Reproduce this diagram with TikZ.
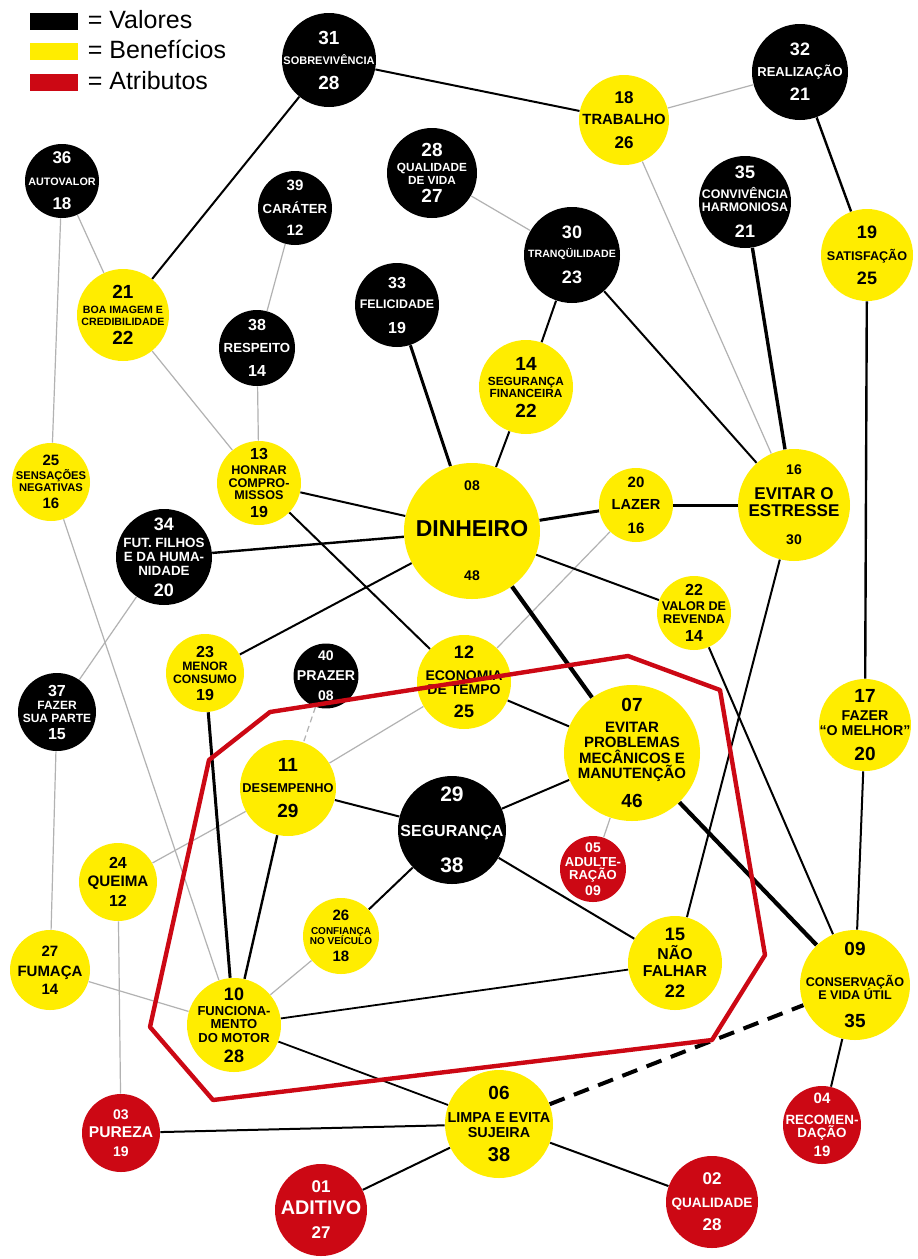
\documentclass[tikz,border=0pt]{standalone}
\usepackage{fontspec}
\setmainfont{Liberation Sans}
\usetikzlibrary{positioning}
\definecolor{amarelo}{RGB}{255,237,0}
\definecolor{vermelho}{RGB}{204,8,20}
\newcommand{\tam}[1]{\fontsize{#1}{0}\selectfont}
\newcommand{\fontebase}{\lineskiplimit=-\maxdimen\bfseries\fontsize{1}{0}\selectfont}

\tikzset{
  conceito/.style={circle, inner sep=-25pt, align=center, font=\fontebase},
  valor/.style={conceito, fill=black, text=white},
  beneficio/.style={conceito, fill=amarelo},
  atributo/.style={conceito, fill=vermelho, text=white},
  fraca/.style={draw=black!30, line width=0.6pt},
  media/.style={draw=black, line width=1pt},
  forte/.style={draw=black, line width=1.5pt},
  maisforte/.style={draw=black, line width=2.1pt},
  tracejada/.style={draw=black, line width=2pt, dash pattern=on 8pt off 5pt},
  contorno/.style={draw=vermelho, line width=2.2pt, line join=round},
  legenda/.style={minimum width=24pt, minimum height=8.5pt, inner sep=0pt},
  textoleg/.style={inner sep=0pt, text height=0.72em, text depth=0pt, font=\fontsize{12.5}{14}\selectfont}
}

\begin{document}
\begin{tikzpicture}[x=0.5pt, y=-0.5pt]
            \path[use as bounding box, fill=white] (0,0) rectangle (917,1259);

            %Legend
            \node[legenda, fill=black] at (54,21.5) (lv) {};
            \node[legenda, fill=amarelo] at (54,51) (lb) {};
            \node[legenda, fill=vermelho] at (54,82) (la) {};
            \node[textoleg, right=4.5pt of lv] (tv) {= Valores};
            \node[textoleg, right=4.5pt of lb] (tb) {= Benefícios};
            \node[textoleg, right=4.5pt of la] (ta) {= Atributos};

            %Nodes
            \node[valor, minimum size=47] at (329,60) (sobrev) {\tam{9.5}31\\[10.1pt]\tam{5.5}SOBREVIVÊNCIA\\[12.4pt]\tam{9.5}28};
            \node[beneficio, minimum size=45] at (624,120) (trab) {\tam{8.5}18\\[10.6pt]\tam{7.4}TRABALHO\\[11.9pt]\tam{8.5}26};
            \node[valor, minimum size=48] at (800,72) (realiz) {\tam{9}32\\[10.6pt]\tam{6.5}REALIZAÇÃO\\[11.9pt]\tam{9}21};
            \node[valor, minimum size=37] at (62,181) (autov) {\tam{8.5}36\\[10.9pt]\tam{5.4}AUTOVALOR\\[12.1pt]\tam{8.5}18};
            \node[valor, minimum size=37] at (295,208) (carat) {\tam{7.5}39\\[11.2pt]\tam{6.6}CARÁTER\\[11.3pt]\tam{7.5}12};
            \node[valor, minimum size=45] at (432,173) (qualv) {\tam{9.5}28\\[7.2pt]\tam{5.9}QUALIDADE\\[6.5pt]\tam{5.9}DE VIDA\\[9.3pt]\tam{9.5}27};
            \node[valor, minimum size=48] at (572,255) (tranq) {\tam{9}30\\[9.6pt]\tam{5.3}TRANQÜILIDADE\\[12.8pt]\tam{9}23};
            \node[valor, minimum size=46] at (745,202) (conviv) {\tam{9}35\\[10pt]\tam{6.2}CONVIVÊNCIA\\[6.5pt]\tam{6.2}HARMONIOSA\\[13pt]\tam{9}21};
            \node[beneficio, minimum size=46] at (867,255) (satisf) {\tam{9}19\\[11pt]\tam{6.3}SATISFAÇÃO\\[12pt]\tam{9}25};
            \node[beneficio, minimum size=46] at (123,315) (boaim) {\tam{9.5}21\\[7.5pt]\tam{5.3}BOA IMAGEM E\\[6pt]\tam{5.3}CREDIBILIDADE\\[9.5pt]\tam{9.5}22};
            \node[valor, minimum size=42] at (397,305) (felic) {\tam{8}33\\[10.3pt]\tam{6.2}FELICIDADE\\[12.2pt]\tam{8}19};
            \node[valor, minimum size=38] at (257,348) (resp) {\tam{8}38\\[11pt]\tam{6.6}RESPEITO\\[12pt]\tam{8}14};
            \node[beneficio, minimum size=47] at (526,387) (segfin) {\tam{9.5}14\\[7.7pt]\tam{5.9}SEGURANÇA\\[6pt]\tam{5.9}FINANCEIRA\\[9.8pt]\tam{9.5}22};
            \node[beneficio, minimum size=39] at (51,482) (sensneg) {\tam{7.5}25\\[6.9pt]\tam{5.6}SENSAÇÕES\\[6pt]\tam{5.6}NEGATIVAS\\[8.7pt]\tam{7.5}16};
            \node[beneficio, minimum size=42] at (259,483) (honrar) {\tam{8}13\\[7.4pt]\tam{6.3}HONRAR\\[6.5pt]\tam{6.3}COMPRO-\\[6pt]\tam{6.3}MISSOS\\[9.2pt]\tam{8}19};
            \node[beneficio, minimum size=68] at (472,531) (dinh) {\tam{7}08\\[22.6pt]\tam{11.5}DINHEIRO\\[22.4pt]\tam{7}48};
            \node[beneficio, minimum size=37] at (636,505) (lazer) {\tam{7.5}20\\[10.9pt]\tam{7.3}LAZER\\[12pt]\tam{7.5}16};
            \node[beneficio, minimum size=56] at (794,505) (estress) {\tam{7}16\\[12.5pt]\tam{8.5}EVITAR O\\[8.5pt]\tam{8.5}ESTRESSE\\[14pt]\tam{7}30};
            \node[valor, minimum size=48] at (164,557) (futfil) {\tam{9}34\\[8.7pt]\tam{6.7}FUT. FILHOS\\[7pt]\tam{6.7}E DA HUMA-\\[7pt]\tam{6.7}NIDADE\\[10.4pt]\tam{9}20};
            \node[beneficio, minimum size=37] at (694,613) (revenda) {\tam{8}22\\[7.4pt]\tam{6.3}VALOR DE\\[6.5pt]\tam{6.3}REVENDA\\[8.7pt]\tam{8}14};
            \node[beneficio, minimum size=39] at (205,673) (menorc) {\tam{8}23\\[6.8pt]\tam{6.1}MENOR\\[6.5pt]\tam{6.1}CONSUMO\\[8.2pt]\tam{8}19};
            \node[valor, minimum size=32] at (326,676) (prazer) {\tam{7}40\\[10pt]\tam{7.1}PRAZER\\[10pt]\tam{7}08};
            \node[beneficio, minimum size=47] at (464,682) (econ) {\tam{9}12\\[10.8pt]\tam{7}ECONOMIA\\[7pt]\tam{7}DE TEMPO\\[11.8pt]\tam{9}25};
            \node[valor, minimum size=39] at (57,712) (fazsua) {\tam{8}37\\[6.8pt]\tam{6}FAZER\\[6.5pt]\tam{6}SUA PARTE\\[8.2pt]\tam{8}15};
            \node[beneficio, minimum size=68] at (632,753) (evprob) {\tam{9.5}07\\[10.3pt]\tam{7.5}EVITAR\\[7.5pt]\tam{7.5}PROBLEMAS\\[8pt]\tam{7.5}MECÂNICOS E\\[7.5pt]\tam{7.5}MANUTENÇÃO\\[14.7pt]\tam{9.5}46};
            \node[beneficio, minimum size=46] at (865,725) (fazmel) {\tam{9.5}17\\[9.2pt]\tam{7.1}FAZER\\[7.5pt]\tam{7.1}“O MELHOR”\\[12.4pt]\tam{9.5}20};
            \node[beneficio, minimum size=48] at (288,788) (desemp) {\tam{9.5}11\\[10.4pt]\tam{6.4}DESEMPENHO\\[12.6pt]\tam{9.5}29};
            \node[valor, minimum size=54] at (452,830) (segur) {\tam{10.5}29\\[17.6pt]\tam{8}SEGURANÇA\\[17.9pt]\tam{10.5}38};
            \node[atributo, minimum size=33] at (593,869) (adult) {\tam{7}05\\[6.9pt]\tam{6.5}ADULTE-\\[6.5pt]\tam{6.5}RAÇÃO\\[8.2pt]\tam{7}09};
            \node[beneficio, minimum size=39] at (118,882) (queima) {\tam{8}24\\[8.9pt]\tam{7.6}QUEIMA\\[9.7pt]\tam{8}12};
            \node[beneficio, minimum size=38] at (341,936) (confi) {\tam{7.5}26\\[7.1pt]\tam{5}CONFIANÇA\\[5pt]\tam{5}NO VEÍCULO\\[8.4pt]\tam{7.5}18};
            \node[beneficio, minimum size=47] at (675,963) (naofal) {\tam{9}15\\[9.6pt]\tam{7.9}NÃO\\[8.5pt]\tam{7.9}FALHAR\\[10.4pt]\tam{9}22};
            \node[beneficio, minimum size=55] at (855,985) (conserv) {\tam{9.5}09\\[15.4pt]\tam{6.3}CONSERVAÇÃO\\[6.5pt]\tam{6.3}E VIDA ÚTIL\\[14.2pt]\tam{9.5}35};
            \node[beneficio, minimum size=40] at (50,970) (fumaca) {\tam{7.5}27\\[10pt]\tam{7.5}FUMAÇA\\[9pt]\tam{7.5}14};
            \node[beneficio, minimum size=47] at (234,1025) (funcmot) {\tam{9}10\\[7.6pt]\tam{6.5}FUNCIONA-\\[6.5pt]\tam{6.5}MENTO\\[7pt]\tam{6.5}DO MOTOR\\[9.9pt]\tam{9}28};
            \node[beneficio, minimum size=54] at (499,1124) (limpa) {\tam{9.5}06\\[11.7pt]\tam{7.2}LIMPA E EVITA\\[7.5pt]\tam{7.2}SUJEIRA\\[12pt]\tam{10}38};
            \node[atributo, minimum size=39] at (121,1133) (pureza) {\tam{7}03\\[9.3pt]\tam{7.8}PUREZA\\[9.2pt]\tam{7}19};
            \node[atributo, minimum size=46] at (321,1210) (aditivo) {\tam{8.5}01\\[11pt]\tam{9.9}ADITIVO\\[12pt]\tam{8.5}27};
            \node[atributo, minimum size=46] at (712,1202) (qualid) {\tam{8.5}02\\[11.4pt]\tam{6.8}QUALIDADE\\[11.6pt]\tam{8.5}28};
            \node[atributo, minimum size=39] at (822,1125) (recom) {\tam{7.5}04\\[10.2pt]\tam{6.7}RECOMEN-\\[6.5pt]\tam{6.7}DAÇÃO\\[9.8pt]\tam{7.5}19};

            %Lines
            \draw[fraca] (realiz) -- (trab);
            \draw[fraca] (trab) -- (estress);
            \draw[fraca] (qualv) -- (tranq);
            \draw[fraca] (autov) -- (boaim);
            \draw[fraca] (autov) -- (sensneg);
            \draw[fraca] (carat) -- (resp);
            \draw[fraca] (boaim) -- (honrar);
            \draw[fraca] (resp) -- (honrar);
            \draw[fraca] (lazer) -- (econ);
            \draw[fraca] (econ) -- (desemp);
            \draw[fraca] (evprob) -- (adult);
            \draw[fraca] (futfil) -- (fazsua);
            \draw[fraca] (fazsua) -- (fumaca);
            \draw[fraca] (sensneg) -- (funcmot);
            \draw[fraca] (desemp) -- (queima);
            \draw[fraca] (queima) -- (pureza);
            \draw[fraca] (confi) -- (funcmot);
            \draw[fraca] (fumaca) -- (funcmot);
            \draw[fraca, dash pattern=on 3pt off 2pt] (prazer) -- (desemp);

            \draw[media] (sobrev) -- (boaim);
            \draw[media] (sobrev) -- (trab);
            \draw[media, line width=1.2pt] (realiz) -- (satisf);
            \draw[media] (tranq) -- (segfin);
            \draw[media] (tranq) -- (estress);
            \draw[media, line width=1.2pt] (satisf) -- (fazmel);
            \draw[media] (segfin) -- (dinh);
            \draw[media] (honrar) -- (dinh);
            \draw[media] (honrar) -- (econ);
            \draw[media] (dinh) -- (revenda);
            \draw[media] (dinh) -- (menorc);
            \draw[media] (estress) -- (naofal);
            \draw[media] (revenda) -- (conserv);
            \draw[media] (fazmel) -- (conserv);
            \draw[media] (econ) -- (evprob);
            \draw[media] (evprob) -- (segur);
            \draw[media] (desemp) -- (segur);
            \draw[media, line width=1.2pt] (desemp) -- (funcmot);
            \draw[media] (segur) -- (confi);
            \draw[media] (segur) -- (naofal);
            \draw[media, line width=0.9pt] (funcmot) -- (naofal);
            \draw[media, line width=0.9pt] (funcmot) -- (limpa);
            \draw[media] (limpa) -- (pureza);
            \draw[media] (limpa) -- (aditivo);
            \draw[media] (limpa) -- (qualid);
            \draw[media] (conserv) -- (recom);

            \draw[forte] (felic) -- (dinh);
            \draw[forte, line width=1.2pt] (futfil) -- (dinh);
            \draw[forte] (dinh) -- (lazer);
            \draw[forte] (lazer) -- (estress);
            \draw[forte, line width=1.7pt] (conviv) -- (estress);
            \draw[forte] (menorc) -- (funcmot);
            \draw[maisforte] (dinh) -- (evprob);
            \draw[maisforte] (evprob) -- (conserv);
            \draw[tracejada] (limpa) -- (conserv);

            %Outline
            \draw[contorno] (270,712) -- (628,656) -- (720,690) -- (765,955) -- (712,1040) -- (213,1100) -- (150,1027) -- (209,760) -- cycle;
        \end{tikzpicture}
\end{document}
